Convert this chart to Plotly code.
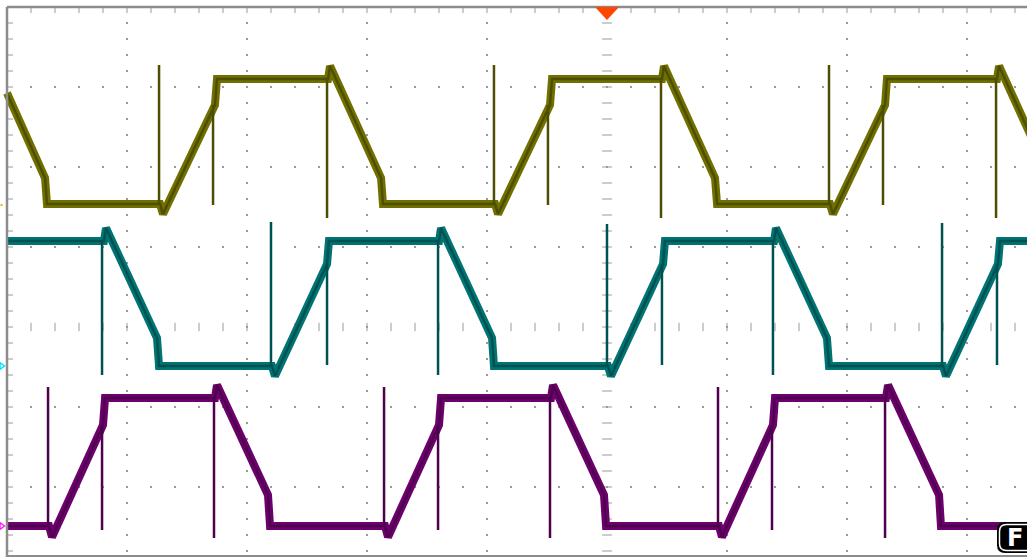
import numpy as np
import plotly.graph_objects as go

# Screen units: horizontal and vertical divisions of the scope graticule.
# Trace vertices (time [div], level [div]) for the three phase voltages.
ch1_t = [-5.0, -4.683, -4.667, -3.725, -3.7, -3.267, -3.25, -2.325, -2.308, -1.883, -1.867,
         -0.933, -0.908, -0.475, -0.458, 0.458, 0.475, 0.9, 0.917,
         1.858, 1.883, 2.317, 2.333, 3.25, 3.267, 3.692]
ch1_v = [2.925, 1.8625, 1.5375, 1.5375, 1.4125, 2.775, 3.1, 3.1, 3.2625, 1.8625, 1.5375,
         1.5375, 1.4125, 2.775, 3.1, 3.1, 3.2625, 1.8625, 1.5375,
         1.5375, 1.4125, 2.775, 3.1, 3.1, 3.2625, 1.8625]

ch2_t = [-5.0, -4.192, -4.175, -3.75, -3.733, -2.792, -2.767, -2.333, -2.317, -1.4, -1.383,
         -0.958, -0.942, 0.008, 0.033, 0.467, 0.483, 1.392, 1.408, 1.833, 1.85,
         2.8, 2.825, 3.258, 3.275, 3.5]
ch2_v = [1.075, 1.075, 1.2375, -0.1375, -0.4875, -0.4875, -0.6125, 0.7875, 1.075, 1.075, 1.2375,
         -0.1375, -0.4875, -0.4875, -0.6125, 0.7875, 1.075, 1.075, 1.2375, -0.1375, -0.4875,
         -0.4875, -0.6125, 0.7875, 1.075, 1.075]

ch3_t = [-5.0, -4.65, -4.625, -4.2, -4.183, -3.267, -3.25, -2.825, -2.808, -1.85, -1.825,
         -1.4, -1.383, -0.467, -0.45, -0.025, -0.008, 0.933, 0.958, 1.383, 1.4,
         2.325, 2.342, 2.767, 2.783, 3.5]
ch3_v = [-2.4875, -2.4875, -2.625, -1.225, -0.8875, -0.8875, -0.725, -2.1, -2.4875, -2.4875, -2.625,
         -1.225, -0.8875, -0.8875, -0.725, -2.1, -2.4875, -2.4875, -2.625, -1.225, -0.8875,
         -0.8875, -0.725, -2.1, -2.4875, -2.4875]

# Switching spikes: time, start level, end level
ch1_spike_t = [-3.733, -3.283, -2.333, -0.942, -0.492, 0.45, 1.85, 2.3, 3.242]
ch1_spike_a = [1.5375, 2.775, 3.1, 1.5375, 2.775, 3.1, 1.5375, 2.775, 3.1]
ch1_spike_b = [3.275, 1.525, 1.3625, 3.275, 1.525, 1.3625, 3.275, 1.525, 1.3625]

ch2_spike_t = [-4.208, -2.8, -2.333, -1.408, 0.0, 0.458, 1.383, 2.792, 3.25]
ch2_spike_a = [1.075, -0.4875, 0.7875, 1.075, -0.4875, 0.7875, 1.075, -0.4875, 0.7875]
ch2_spike_b = [-0.6, 1.3125, -0.475, -0.6, 1.2875, -0.475, -0.6, 1.3, -0.475]

ch3_spike_t = [-4.658, -4.208, -3.275, -1.858, -1.408, -0.475, 0.925, 1.375, 2.317]
ch3_spike_a = [-2.4875, -1.225, -0.8875, -2.4875, -1.225, -0.8875, -2.4875, -1.225, -0.8875]
ch3_spike_b = [-0.75, -2.5375, -2.6375, -0.75, -2.5375, -2.6375, -0.75, -2.5375, -2.6375]

channels = [
    (ch1_t, ch1_v, ch1_spike_t, ch1_spike_a, ch1_spike_b, "#707000", "#4e4e00"),
    (ch2_t, ch2_v, ch2_spike_t, ch2_spike_a, ch2_spike_b, "#007373", "#005252"),
    (ch3_t, ch3_v, ch3_spike_t, ch3_spike_a, ch3_spike_b, "#6e006e", "#4e004e"),
]

X0, X1 = -5 - 7 / 120, 3.5
Y0, Y1 = 4.0875 - 557 / 80, 4.0875
GRID = "#9a9a9a"

fig = go.Figure()

# Graticule dots on the major division lines
dx, dy = [], []
for gx in [-4, -3, -2, -1, 1, 2, 3]:
    for gy in np.arange(-2.8, 3.81, 0.2):
        dx.append(gx); dy.append(gy)
for gy in [-2, -1, 1, 2, 3]:
    for gx in np.arange(-4.8, 3.41, 0.2):
        dx.append(gx); dy.append(gy)
fig.add_trace(go.Scatter(x=dx, y=dy, mode="markers", hoverinfo="skip",
                         marker=dict(symbol="square", size=2, color=GRID, line=dict(width=0))))

# Minor ticks on the centre cross and along the borders
cx = np.arange(-4.8, 3.41, 0.2)
fig.add_trace(go.Scatter(x=cx, y=np.zeros_like(cx), mode="markers", hoverinfo="skip",
                         marker=dict(symbol="line-ns", size=6, line=dict(width=1, color=GRID))))
cy = np.arange(-2.8, 3.81, 0.2)
fig.add_trace(go.Scatter(x=np.zeros_like(cy), y=cy, mode="markers", hoverinfo="skip",
                         marker=dict(symbol="line-ew", size=7, line=dict(width=1, color=GRID))))
fig.add_trace(go.Scatter(x=cx, y=np.full_like(cx, 4 - 2.5 / 80), mode="markers", hoverinfo="skip",
                         marker=dict(symbol="line-ns", size=5, line=dict(width=1, color=GRID))))
fig.add_trace(go.Scatter(x=np.full_like(cy, -5 + 2.5 / 120), y=cy, mode="markers", hoverinfo="skip",
                         marker=dict(symbol="line-ew", size=5, line=dict(width=1, color=GRID))))

# Phase traces
for t, v, st, sa, sb, col, dark in channels:
    fig.add_trace(go.Scatter(x=t, y=v, mode="lines", hoverinfo="skip",
                             line=dict(color=col, width=8)))
    fig.add_trace(go.Scatter(x=t, y=v, mode="lines", hoverinfo="skip",
                             line=dict(color=dark, width=2.5)))
    sx, sy = [], []
    for a, b, c in zip(st, sa, sb):
        sx += [a, a, None]
        sy += [b, c, None]
    fig.add_trace(go.Scatter(x=sx, y=sy, mode="lines", hoverinfo="skip",
                             line=dict(color=dark, width=2.5)))

shapes = []
# Border lines
shapes.append(dict(type="line", xref="x", yref="y", x0=-5, x1=-5, y0=Y0, y1=4,
                   line=dict(color="#8c8c8c", width=2.5)))
shapes.append(dict(type="line", xref="x", yref="y", x0=-5, x1=X1, y0=4, y1=4,
                   line=dict(color="#8c8c8c", width=2.5)))
shapes.append(dict(type="line", xref="x", yref="y", x0=-5, x1=X1, y0=4.0875 - 556 / 80,
                   y1=4.0875 - 556 / 80, line=dict(color="#8c8c8c", width=2)))

# Trigger position marker
shapes.append(dict(type="path", xref="x", yref="y",
                   path=f"M {-12/120} 4 L {12/120} 4 L 0 {4 - 13/80} Z",
                   fillcolor="#ff4500", line=dict(width=0)))


def rounded(xa, xb, ya, yb, r):
    rx, ry = r / 120, r / 80
    return (f"M {xa+rx} {yb} L {xb-rx} {yb} Q {xb} {yb} {xb} {yb-ry} L {xb} {ya+ry} "
            f"Q {xb} {ya} {xb-rx} {ya} L {xa+rx} {ya} Q {xa} {ya} {xa} {ya+ry} "
            f"L {xa} {yb-ry} Q {xa} {yb} {xa+rx} {yb} Z")


def px_x(p):
    return X0 + p / 120


def px_y(p):
    return Y1 - p / 80


shapes.append(dict(type="path", xref="x", yref="y",
                   path=rounded(px_x(997), px_x(1045), px_y(553), px_y(522), 8),
                   fillcolor="black", line=dict(width=0)))
shapes.append(dict(type="path", xref="x", yref="y",
                   path=rounded(px_x(999.5), px_x(1042), px_y(550.5), px_y(524.5), 7),
                   fillcolor="rgba(0,0,0,0)", line=dict(color="white", width=1.5)))

fig.update_layout(shapes=shapes)

# Channel ground-level indicators at the left edge
fig.add_trace(go.Scatter(x=[px_x(1.5)], y=[px_y(205)], mode="markers", hoverinfo="skip",
                         marker=dict(symbol="square", size=2, color="#e0c000")))
fig.add_trace(go.Scatter(x=[px_x(1.5), px_x(1.5)], y=[px_y(366), px_y(526)], mode="markers",
                         hoverinfo="skip",
                         marker=dict(symbol="triangle-right-open", size=6,
                                     color=["#00e5ff", "#ff20ff"],
                                     line=dict(width=1.5, color=["#00e5ff", "#ff20ff"]))))

fig.add_annotation(x=px_x(1015), y=px_y(538), xref="x", yref="y", text="<b>F</b>",
                   showarrow=False, font=dict(family="DejaVu Sans", size=24, color="white"))

fig.update_layout(
    width=1027, height=557, margin=dict(l=0, r=0, t=0, b=0),
    paper_bgcolor="white", plot_bgcolor="white", showlegend=False,
    xaxis=dict(range=[X0, X1], visible=False, fixedrange=True),
    yaxis=dict(range=[Y0, Y1], visible=False, fixedrange=True),
)

fig.write_html("out.html")
